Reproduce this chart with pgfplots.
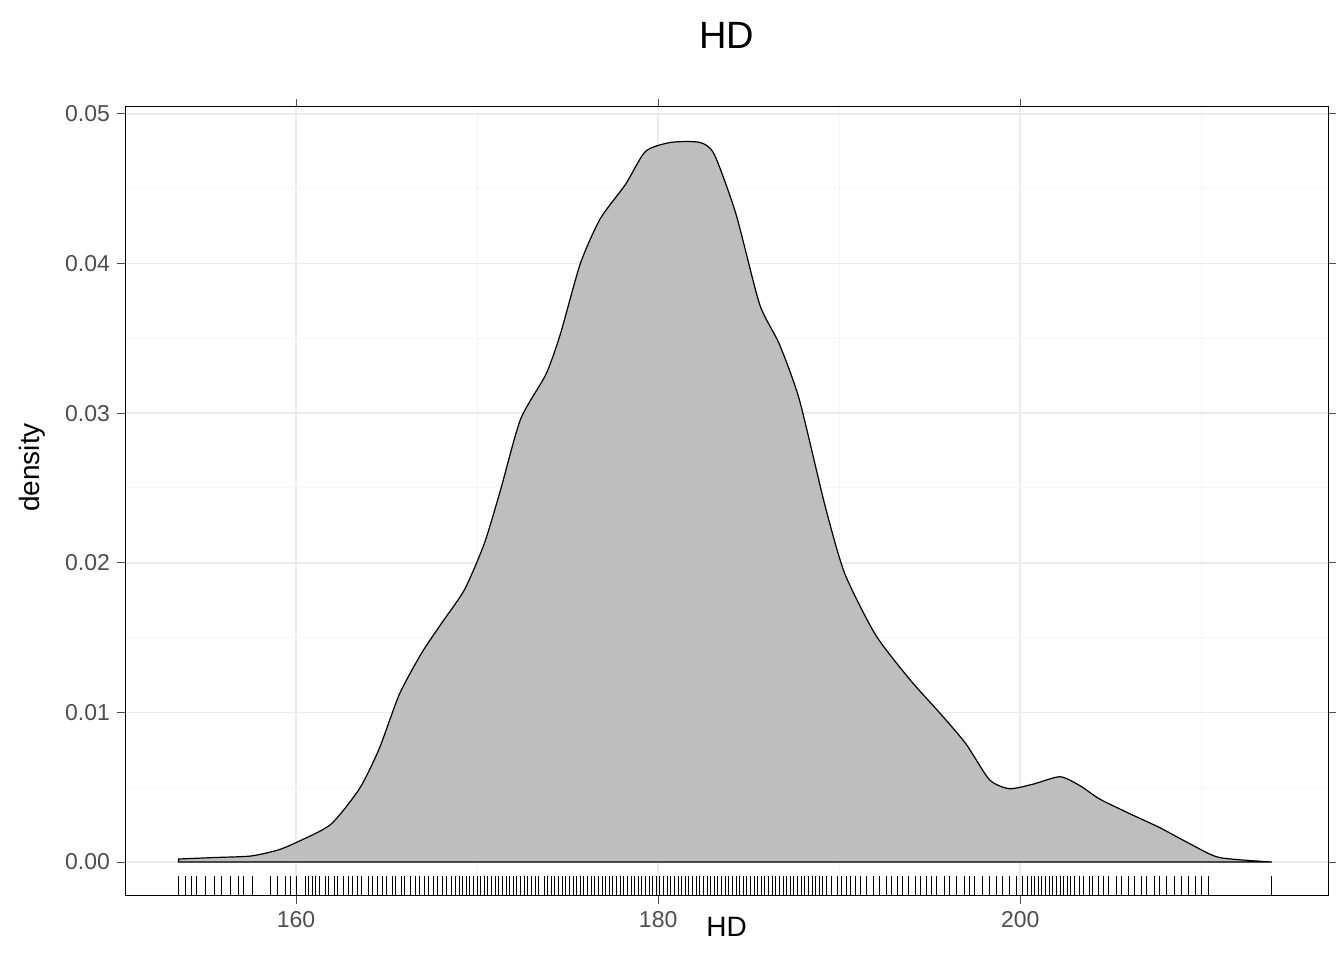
\documentclass[border=0pt]{standalone}
\usepackage{pgfplots}
\pgfplotsset{compat=1.18}
\usepackage{fontspec}
\setmainfont{Liberation Sans}
\definecolor{fillg}{RGB}{190,190,190}
\definecolor{gridmaj}{RGB}{235,235,235}
\definecolor{gridmin}{RGB}{245,245,245}
\definecolor{ticklab}{RGB}{77,77,77}
\begin{document}
\begin{tikzpicture}
\useasboundingbox (-62.5pt,-49pt) rectangle (609.5pt,431pt);
\begin{axis}[at={(0,0)},anchor=origin,scale only axis,width=601.5pt,height=394.5pt,
 xmin=150.55,xmax=217.0,ymin=-0.00227,ymax=0.05047,
 xtick={160,180,200},ytick={0,0.01,0.02,0.03,0.04,0.05},
 minor xtick={150,170,190,210},minor ytick={0.005,0.015,0.025,0.035,0.045},
 grid=both,major grid style={gridmaj,line width=0.8pt},minor grid style={gridmin,line width=0.5pt},
 axis line style={black,line width=0.5pt},
 tick align=outside,major tick length=4pt,tick style={ticklab,line width=0.5pt},
 minor tick length=0pt,
 /pgf/number format/assume math mode=true,
 ticklabel style={font=\fontsize{11.5}{13}\selectfont,text=ticklab},
 y tick label style={/pgf/number format/fixed,/pgf/number format/fixed zerofill,/pgf/number format/precision=2},
 scaled y ticks=false]
\addplot[fill=fillg,draw=black,line width=0.6pt,smooth,tension=0.4] coordinates {
(153.5,0.0002)(155.5,0.0003)(157.5,0.0004)(159,0.0008)(160,0.0013)(161.9,0.0025)(163.5,0.0049)(164.6,0.0076)(165.7,0.0112)(166.9,0.0139)(168.0,0.0159)(169.3,0.0182)(170.4,0.0213)(171.3,0.0249)(172.4,0.0296)(173.8,0.0326)(174.6,0.0353)(175.7,0.0400)(176.8,0.0430)(178.2,0.0453)(179.3,0.0475)(180.7,0.0481)(182.3,0.0481)(183.1,0.0473)(184.3,0.0433)(185.6,0.0373)(186.7,0.0346)(187.8,0.0309)(189.2,0.0239)(190.3,0.0193)(192.0,0.0152)(193.9,0.0122)(195.6,0.0099)(197.0,0.0079)(198.3,0.0055)(199.4,0.0049)(200.7,0.0052)(202.2,0.0057)(203.3,0.0051)(204.4,0.0042)(206.1,0.0032)(207.7,0.0023)(209.4,0.0012)(211.0,0.0003)(213.9,0.0)} \closedcycle;
\addplot[only marks,mark=|,mark size=5pt,mark options={line width=0.5pt,black}] coordinates {
(153.5,-0.0016)(153.9,-0.0016)(154.2,-0.0016)(154.5,-0.0016)(155.0,-0.0016)(155.5,-0.0016)(155.9,-0.0016)(156.4,-0.0016)(156.8,-0.0016)(157.1,-0.0016)(157.6,-0.0016)
(158.6,-0.0016)(159.0,-0.0016)(159.4,-0.0016)(159.7,-0.0016)(160.0,-0.0016)(160.5,-0.0016)(160.7,-0.0016)(160.9,-0.0016)(161.1,-0.0016)(161.3,-0.0016)(161.6,-0.0016)(161.8,-0.0016)(162.1,-0.0016)(162.3,-0.0016)(162.6,-0.0016)(162.9,-0.0016)(163.1,-0.0016)(163.4,-0.0016)(163.6,-0.0016)(164.0,-0.0016)(164.2,-0.0016)(164.5,-0.0016)(164.8,-0.0016)(165.0,-0.0016)(165.3,-0.0016)(165.5,-0.0016)(165.8,-0.0016)(166.0,-0.0016)(166.3,-0.0016)(166.6,-0.0016)(166.8,-0.0016)(167.1,-0.0016)(167.3,-0.0016)(167.6,-0.0016)(167.8,-0.0016)(168.1,-0.0016)(168.3,-0.0016)(168.6,-0.0016)(168.8,-0.0016)(169.0,-0.0016)(169.2,-0.0016)(169.4,-0.0016)(169.6,-0.0016)(169.8,-0.0016)(170.0,-0.0016)(170.2,-0.0016)(170.4,-0.0016)(170.6,-0.0016)(170.8,-0.0016)(171.0,-0.0016)(171.2,-0.0016)(171.4,-0.0016)(171.6,-0.0016)(171.8,-0.0016)(172.0,-0.0016)(172.2,-0.0016)(172.4,-0.0016)(172.6,-0.0016)(172.8,-0.0016)(173.0,-0.0016)(173.2,-0.0016)(173.4,-0.0016)(173.7,-0.0016)(173.9,-0.0016)(174.1,-0.0016)(174.3,-0.0016)(174.5,-0.0016)(174.7,-0.0016)(174.9,-0.0016)(175.1,-0.0016)(175.3,-0.0016)(175.5,-0.0016)(175.7,-0.0016)(175.9,-0.0016)(176.1,-0.0016)(176.3,-0.0016)(176.5,-0.0016)(176.7,-0.0016)(176.9,-0.0016)(177.1,-0.0016)(177.3,-0.0016)(177.5,-0.0016)(177.7,-0.0016)(177.9,-0.0016)(178.1,-0.0016)(178.3,-0.0016)(178.5,-0.0016)(178.7,-0.0016)(178.9,-0.0016)(179.1,-0.0016)(179.3,-0.0016)(179.5,-0.0016)(179.7,-0.0016)(179.9,-0.0016)(180.1,-0.0016)(180.3,-0.0016)(180.5,-0.0016)(180.7,-0.0016)(180.9,-0.0016)(181.1,-0.0016)(181.3,-0.0016)(181.5,-0.0016)(181.7,-0.0016)(181.9,-0.0016)(182.1,-0.0016)(182.3,-0.0016)(182.5,-0.0016)(182.7,-0.0016)(182.9,-0.0016)(183.1,-0.0016)(183.3,-0.0016)(183.5,-0.0016)(183.7,-0.0016)(183.9,-0.0016)(184.1,-0.0016)(184.3,-0.0016)(184.5,-0.0016)(184.7,-0.0016)(184.9,-0.0016)(185.1,-0.0016)(185.3,-0.0016)(185.5,-0.0016)(185.7,-0.0016)(185.9,-0.0016)(186.1,-0.0016)(186.3,-0.0016)(186.5,-0.0016)(186.7,-0.0016)(186.9,-0.0016)(187.1,-0.0016)(187.3,-0.0016)(187.5,-0.0016)(187.7,-0.0016)(187.9,-0.0016)(188.1,-0.0016)(188.3,-0.0016)(188.5,-0.0016)(188.7,-0.0016)(188.9,-0.0016)(189.1,-0.0016)(189.3,-0.0016)(189.6,-0.0016)(189.9,-0.0016)(190.1,-0.0016)(190.4,-0.0016)(190.6,-0.0016)(190.9,-0.0016)(191.2,-0.0016)(191.5,-0.0016)(191.9,-0.0016)(192.2,-0.0016)(192.6,-0.0016)(192.9,-0.0016)(193.2,-0.0016)(193.5,-0.0016)(193.8,-0.0016)(194.2,-0.0016)(194.5,-0.0016)(194.8,-0.0016)(195.1,-0.0016)(195.4,-0.0016)(195.8,-0.0016)(196.1,-0.0016)(196.5,-0.0016)(196.9,-0.0016)(197.2,-0.0016)(197.5,-0.0016)(197.9,-0.0016)(198.3,-0.0016)(198.7,-0.0016)(199.0,-0.0016)(199.4,-0.0016)(199.8,-0.0016)(200.1,-0.0016)(200.4,-0.0016)(200.6,-0.0016)(200.8,-0.0016)(201.0,-0.0016)(201.2,-0.0016)(201.4,-0.0016)(201.6,-0.0016)(201.8,-0.0016)(202.0,-0.0016)(202.2,-0.0016)(202.4,-0.0016)(202.6,-0.0016)(202.8,-0.0016)(203.0,-0.0016)(203.3,-0.0016)(203.5,-0.0016)(203.8,-0.0016)(204.0,-0.0016)(204.3,-0.0016)(204.6,-0.0016)(204.9,-0.0016)(205.3,-0.0016)(205.6,-0.0016)(206.0,-0.0016)(206.3,-0.0016)(206.7,-0.0016)(207.0,-0.0016)(207.4,-0.0016)(207.7,-0.0016)(208.1,-0.0016)(208.5,-0.0016)(208.9,-0.0016)(209.3,-0.0016)(209.7,-0.0016)(210.0,-0.0016)(210.4,-0.0016)(213.9,-0.0016)};
\end{axis}
\node[font=\fontsize{19}{22}\selectfont] at (300.75pt,413.5pt) {HD};
\node[font=\fontsize{14}{16}\selectfont] at (300.75pt,-32.5pt) {HD};
\node[font=\fontsize{14}{16}\selectfont,rotate=90] at (-46.5pt,197.25pt) {density};
\end{tikzpicture}
\end{document}
